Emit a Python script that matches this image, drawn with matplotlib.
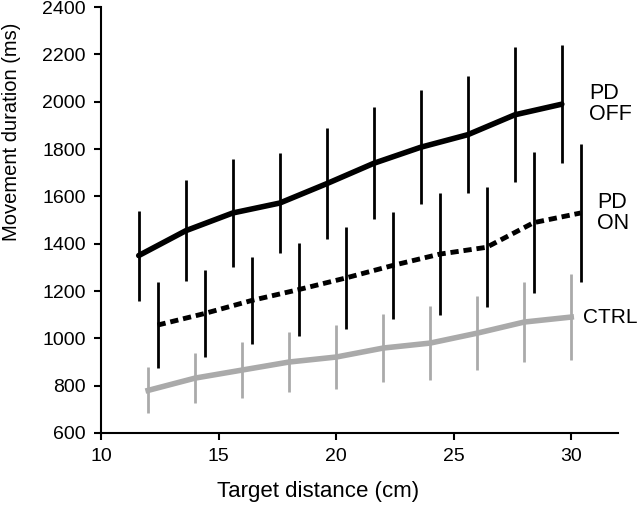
import matplotlib
matplotlib.use("Agg")
import matplotlib.pyplot as plt
import numpy as np

plt.rcParams["font.family"] = ["Liberation Sans", "DejaVu Sans"]

# target distances (cm); groups are offset slightly on the x axis
distance = [12, 14, 16, 18, 20, 22, 24, 26, 28, 30]

pd_off_mean = [1350, 1455, 1530, 1572, 1654, 1740, 1808, 1861, 1945, 1990]
pd_off_err = [190, 213, 230, 212, 234, 236, 241, 247, 285, 250]

pd_on_mean = [1056, 1105, 1160, 1206, 1255, 1308, 1356, 1385, 1489, 1530]
pd_on_err = [182, 184, 184, 197, 215, 226, 258, 253, 298, 292]

ctrl_mean = [780, 832, 866, 900, 921, 959, 980, 1022, 1069, 1090]
ctrl_err = [97, 106, 120, 125, 137, 145, 155, 155, 170, 180]

x = np.array(distance, dtype=float)
gray = "#aaaaaa"

fig = plt.figure(figsize=(6.4, 5.13), dpi=100)
ax = fig.add_axes([0.158, 0.156, 0.808, 0.83])

ax.errorbar(x - 0.4, pd_off_mean, yerr=pd_off_err, color="black", lw=4.0,
            elinewidth=2.0, capsize=0, solid_capstyle="round")
ax.errorbar(x + 0.4, pd_on_mean, yerr=pd_on_err, color="black", lw=3.5,
            ls=(0, (1.7, 1.0)), elinewidth=2.0, capsize=0)
ax.errorbar(x, ctrl_mean, yerr=ctrl_err, color=gray, lw=4.0,
            elinewidth=2.0, capsize=0)

ax.set_xlim(10, 32)
ax.set_ylim(600, 2400)
ax.set_xticks([10, 15, 20, 25, 30])
ax.set_yticks(range(600, 2401, 200))
ax.spines["top"].set_visible(False)
ax.spines["right"].set_visible(False)
ax.spines["left"].set_linewidth(1.5)
ax.spines["bottom"].set_linewidth(1.5)
ax.tick_params(direction="out", length=5, width=1.5, labelsize=14, pad=6)

fig.text(0.018, 0.743, "Movement duration (ms)", rotation=90, fontsize=14.5,
         ha="center", va="center")
fig.text(0.497, 0.041, "Target distance (cm)", fontsize=16,
         ha="center", va="center")

ax.text(30.75, 1990, "PD\nOFF", fontsize=15.5, ha="left", va="center",
        linespacing=1.0)
ax.text(31.1, 1530, "PD\nON", fontsize=15.5, ha="left", va="center",
        linespacing=1.0)
ax.text(30.5, 1090, "CTRL", fontsize=15, ha="left", va="center")

fig.savefig("out.png", dpi=100)
